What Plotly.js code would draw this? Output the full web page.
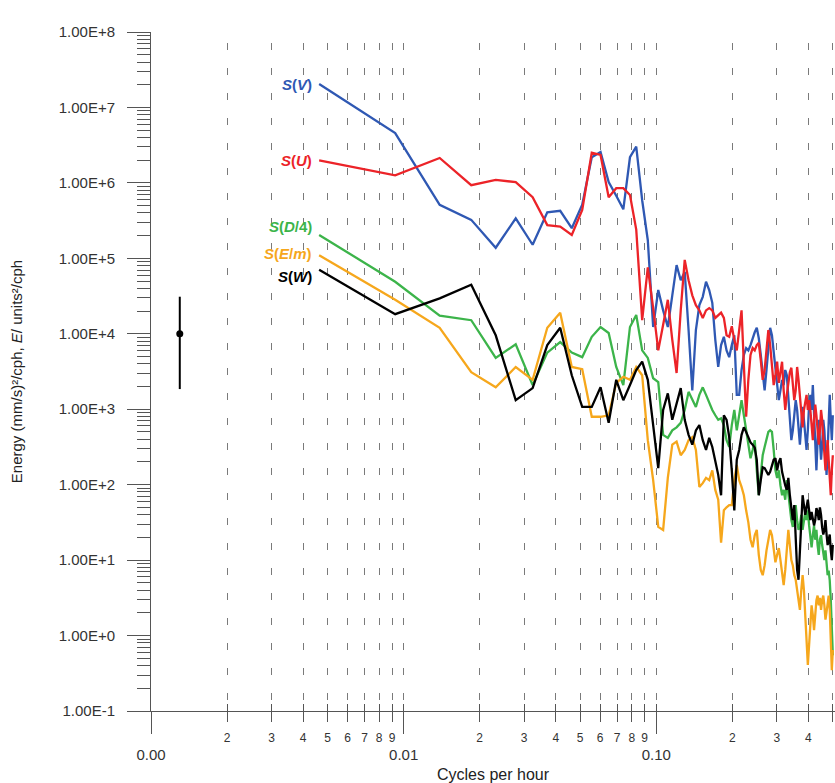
<!DOCTYPE html>
<html>
<head>
<meta charset="utf-8">
<script src="https://cdn.plot.ly/plotly-3.0.1.min.js"></script>
<style>html,body{margin:0;padding:0;background:#fff;}#chart{width:835px;height:783px;}</style>
</head>
<body>
<div id="chart"></div>
<script>
// Frequencies (cycles per hour), harmonics of a 216 h record
const freq = [0.00463,0.00926,0.01389,0.01852,0.02315,0.02778,0.03241,0.03704,0.04167,0.0463,
0.05093,0.05556,0.06019,0.06481,0.06944,0.07407,0.0787,0.08333,0.08796,0.09259,
0.09722,0.10185,0.10648,0.11111,0.11574,0.12037,0.125,0.12963,0.13426,0.13889,
0.14352,0.14815,0.15278,0.15741,0.16204,0.16667,0.1713,0.17593,0.18056,0.18519,
0.18981,0.19444,0.19907,0.2037,0.20833,0.21296,0.21759,0.22222,0.22685,0.23148,
0.23611,0.24074,0.24537,0.25,0.25463,0.25926,0.26389,0.26852,0.27315,0.27778,
0.28241,0.28704,0.29167,0.2963,0.30093,0.30556,0.31019,0.31481,0.31944,0.32407,
0.3287,0.33333,0.33796,0.34259,0.34722,0.35185,0.35648,0.36111,0.36574,0.37037,
0.375,0.37963,0.38426,0.38889,0.39352,0.39815,0.40278,0.40741,0.41204,0.41667,
0.4213,0.42593,0.43056,0.43519,0.43981,0.44444,0.44907,0.4537,0.45833,0.46296,
0.46759,0.47222,0.47685,0.48148,0.48611,0.49074,0.49537,0.5];

// Spectral energy, stored as log10(value)
const log10_SV = [7.31,6.66,5.71,5.51,5.14,5.53,5.18,5.61,5.63,5.40,
5.71,6.34,6.41,6.01,5.83,5.65,6.34,6.48,5.77,5.24,
4.09,4.58,4.31,4.09,4.51,4.91,4.71,4.82,4.05,3.25,
4.05,4.38,4.49,4.69,4.58,4.41,3.92,3.56,3.85,3.96,
3.78,3.69,3.85,3.98,3.19,3.19,3.52,3.72,3.81,3.78,
3.85,3.94,4.02,4.08,3.94,3.72,3.45,3.25,3.52,3.85,
4.08,3.98,3.78,3.52,3.32,3.12,3.25,3.39,3.32,3.52,
3.45,3.12,2.86,2.59,2.72,2.92,3.12,2.99,2.72,2.53,
2.79,3.03,2.86,2.59,2.46,2.72,3.06,3.19,2.99,3.32,
2.86,2.46,2.19,2.59,2.86,2.59,2.33,2.53,2.86,2.72,
2.39,2.13,2.46,2.99,3.19,2.86,2.59,2.92];

const log10_SU = [6.30,6.10,6.33,5.97,6.04,6.01,5.81,5.44,5.42,5.31,
5.64,6.40,6.37,5.81,5.93,5.93,5.84,5.38,4.18,4.88,
4.34,3.78,4.12,4.45,3.92,3.48,4.31,4.98,4.71,4.51,
4.38,4.31,4.21,4.31,4.34,4.31,4.21,4.24,4.28,4.21,
3.98,3.96,4.10,3.92,3.78,4.05,4.31,3.59,2.90,3.39,
3.72,3.81,3.78,3.85,3.88,3.65,3.39,3.52,3.85,4.05,
3.85,3.59,3.32,3.45,3.63,3.35,3.49,3.63,3.25,2.99,
3.19,3.39,3.49,3.55,3.32,3.12,3.25,3.56,3.39,3.19,
2.92,2.76,2.99,3.12,3.19,2.99,3.12,2.99,2.79,2.59,
2.86,3.06,2.92,2.72,2.53,2.72,2.99,2.86,2.66,2.46,
2.19,2.39,2.59,2.33,2.06,1.86,2.19,2.39];

const log10_SD4 = [5.31,4.69,4.24,4.18,3.68,3.86,3.32,3.75,3.89,3.75,
3.69,3.96,4.09,4.01,3.56,3.32,4.09,4.25,3.78,3.68,
3.41,3.36,2.66,2.62,2.72,2.76,2.82,2.99,3.23,3.12,
3.03,3.19,3.29,3.19,3.08,2.99,2.92,2.86,2.88,2.79,
2.59,2.50,2.79,2.99,2.72,2.92,3.12,2.92,2.72,2.53,
2.35,2.46,2.59,2.19,1.86,2.13,2.39,2.50,2.59,2.70,
2.72,2.70,2.46,2.19,2.09,2.19,1.99,1.86,1.93,1.80,
2.06,1.86,1.66,1.53,1.44,1.60,1.73,1.53,1.40,1.46,
1.60,1.40,1.50,1.64,1.53,1.66,1.46,1.27,1.17,1.33,
1.46,1.27,1.40,1.20,1.07,1.27,1.33,1.20,1.07,1.00,
1.13,0.93,0.80,0.86,0.73,0.47,0.07,-0.26];

const log10_SEm = [5.04,4.45,4.08,3.49,3.29,3.56,3.39,4.08,4.28,3.56,
3.53,2.90,2.90,2.92,3.35,3.43,3.39,3.56,3.45,2.59,
2.06,1.44,1.40,2.09,2.53,2.57,2.39,2.46,2.59,2.63,
2.46,1.97,2.02,2.09,2.06,2.19,1.93,1.80,1.23,1.66,
1.70,1.73,1.73,2.06,2.26,2.06,1.97,1.86,1.66,1.50,
1.27,1.17,1.33,1.40,1.07,0.87,0.80,0.93,1.13,1.27,
1.40,1.33,1.13,0.97,1.07,1.16,1.00,0.80,0.67,0.87,
1.20,1.40,1.20,1.00,0.93,0.80,0.74,0.60,0.47,0.34,
0.60,0.80,0.60,0.34,-0.06,-0.39,-0.06,0.27,0.40,0.27,
0.07,0.27,0.47,0.53,0.40,0.50,0.34,0.47,0.53,0.40,
0.21,0.31,0.47,0.53,0.34,-0.06,-0.46,-0.19];

const log10_SW = [4.85,4.26,4.47,4.65,3.98,3.12,3.28,3.85,4.08,3.45,
3.03,3.03,3.29,2.82,3.39,3.12,3.32,3.52,3.63,3.39,
2.79,2.22,2.99,3.21,2.86,3.06,3.28,2.86,2.66,2.53,
2.72,2.79,2.59,2.46,2.62,2.50,2.33,2.13,1.86,2.92,
2.86,2.63,2.19,1.66,2.33,2.46,2.66,2.76,2.70,2.63,
2.56,2.53,2.49,2.33,1.86,2.06,2.23,2.22,2.17,2.13,
2.17,2.26,2.33,2.35,2.19,2.30,2.35,2.17,2.06,1.99,
1.93,2.09,1.86,1.66,1.53,1.73,1.27,0.87,0.74,1.07,
1.40,1.86,1.73,1.60,1.70,1.80,1.66,1.53,1.64,1.56,
1.46,1.53,1.69,1.64,1.53,1.70,1.60,1.43,1.34,1.40,
1.53,1.34,1.20,1.27,1.34,1.13,1.00,1.20];

// Representative error bar
const errFreq = [0.0013];
const errEnergy = [1e4];
const errUpper = [2.1e4];
const errLower = [8150];

// Series names / labels / colours
const seriesNames = ["S(V)","S(U)","S(D/4)","S(E/m)","S(W)"];
const seriesLabels = ["<b><i>S</i>(<i>V</i>)</b>","<b><i>S</i>(<i>U</i>)</b>","<b><i>S</i>(<i>D</i>/4)</b>","<b><i>S</i>(<i>E</i>/<i>m</i>)</b>","<b><i>S</i>(<i>W</i>)</b>"];
const seriesColors = ["#2f58b3","#ec2328","#3cb44a","#f6a71c","#000000"];
const seriesLog = [log10_SV, log10_SU, log10_SD4, log10_SEm, log10_SW];
const labelYShift = [0, 0, 8, 2, -7];

// Axis ticks
const yTickVals = [0.1,1,10,100,1e3,1e4,1e5,1e6,1e7,1e8];
const yTickText = ["1.00E-1","1.00E+0","1.00E+1","1.00E+2","1.00E+3","1.00E+4","1.00E+5","1.00E+6","1.00E+7","1.00E+8"];
const xDigitVals = [0.002,0.003,0.004,0.005,0.006,0.007,0.008,0.009,
                    0.02,0.03,0.04,0.05,0.06,0.07,0.08,0.09,
                    0.2,0.3,0.4,0.5];
const xDigitText = ["2","3","4","5","6","7","8","9","2","3","4","5","6","7","8","9","2","3","4","5"];
const xDecadeVals = [0.001,0.01,0.1];
const xDecadeText = ["0.00","0.01","0.10"];

const yMinorVals = [];
for (let e = -1; e < 8; e++) for (let d = 2; d <= 9; d++) yMinorVals.push(d * Math.pow(10, e));

const xRange = [-3, Math.log10(0.51)];
const axisCol = '#555';
const gridCol = '#7a7a7a';
const dashPat = '0px,11px,7px,7px';
const fam = '"Liberation Sans", Arial, sans-serif';

const traces = seriesLog.map((arr, i) => ({
  type: 'scatter', mode: 'lines', name: seriesNames[i],
  x: freq, y: arr.map(v => Math.pow(10, v)),
  line: {color: seriesColors[i], width: 2.3},
  xaxis: i === 4 ? 'x3' : 'x', yaxis: 'y',
  hoverinfo: 'skip'
}));
traces.push({
  type: 'scatter', mode: 'markers', name: 'error',
  x: errFreq, y: errEnergy, xaxis: 'x2', yaxis: 'y',
  marker: {color: '#000', size: 7},
  error_y: {type: 'data', symmetric: false, array: errUpper, arrayminus: errLower,
            width: 0, thickness: 2, color: '#000'}
});

const annotations = seriesLabels.map((t, i) => ({
  xref: 'x', yref: 'y', x: Math.log10(freq[0]), y: seriesLog[i][0],
  text: t, showarrow: false, xanchor: 'right', yanchor: 'middle',
  xshift: -5, yshift: labelYShift[i],
  font: {size: 15, color: seriesColors[i], family: fam}
}));

const layout = {
  width: 835, height: 783,
  margin: {l: 151, r: 0, t: 32, b: 72},
  paper_bgcolor: '#fff', plot_bgcolor: '#fff',
  font: {family: fam, color: '#333', size: 15},
  showlegend: false,
  xaxis: {
    type: 'log', range: xRange, tickmode: 'array', tickvals: xDigitVals, ticktext: xDigitText,
    ticks: 'outside', ticklen: 10, tickwidth: 1, tickcolor: axisCol,
    tickfont: {size: 12, color: '#333'}, ticklabelstandoff: 6,
    showgrid: true, gridcolor: gridCol, gridwidth: 1, griddash: dashPat,
    showline: true, linecolor: axisCol, linewidth: 1, zeroline: false
  },
  xaxis2: {
    type: 'log', range: xRange, overlaying: 'x', anchor: 'y', side: 'bottom',
    tickmode: 'array', tickvals: xDecadeVals, ticktext: xDecadeText,
    ticks: 'outside', ticklen: 22, tickwidth: 1, tickcolor: axisCol,
    tickfont: {size: 15, color: '#333'}, ticklabelstandoff: 8,
    showgrid: true, gridcolor: gridCol, gridwidth: 1, griddash: dashPat,
    showline: false, zeroline: false,
    title: {text: 'Cycles per hour', font: {size: 16, color: '#222'}, standoff: 7}
  },
  xaxis3: {
    type: 'log', range: xRange, overlaying: 'x', anchor: 'y', side: 'bottom',
    tickmode: 'array', tickvals: xDigitVals.concat([0.01, 0.1]),
    ticks: 'inside', ticklen: 7, tickwidth: 1, tickcolor: axisCol,
    showticklabels: false, showgrid: false, showline: false, zeroline: false
  },
  yaxis: {
    type: 'log', range: [-1, 8], tickmode: 'array', tickvals: yTickVals, ticktext: yTickText,
    ticks: 'outside', ticklen: 23, tickwidth: 1, tickcolor: axisCol,
    minor: {tickmode: 'array', tickvals: yMinorVals, ticks: 'outside', ticklen: 13, tickwidth: 1, tickcolor: axisCol},
    tickfont: {size: 15, color: '#333'}, ticklabelstandoff: 9,
    showgrid: false, showline: true, linecolor: axisCol, linewidth: 1, zeroline: false,
    title: {text: 'Energy (mm/s)\u00b2/cph, <i>E</i>/ units\u00b2/cph', font: {size: 15, color: '#222'}, standoff: 32}
  },
  annotations: annotations
};

Plotly.newPlot('chart', traces, layout, {displayModeBar: false, staticPlot: true});
</script>
</body>
</html>
